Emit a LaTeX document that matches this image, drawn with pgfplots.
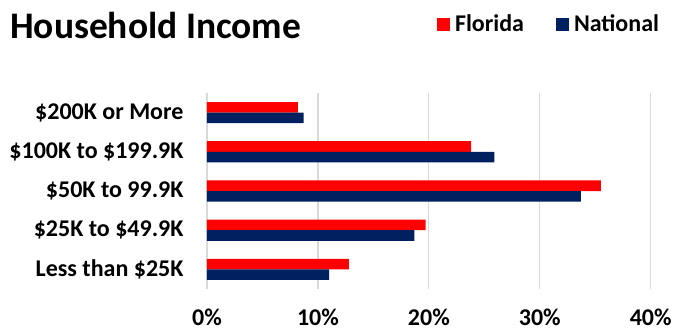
\documentclass[border=0pt]{standalone}
\usepackage{fontspec}
\setmainfont{Carlito}
\usepackage{pgfplots}
\pgfplotsset{compat=1.18}
\definecolor{fl}{HTML}{FF0000}
\definecolor{nat}{HTML}{002060}
\begin{document}
\begin{tikzpicture}
\useasboundingbox (0,0) rectangle (678pt,-333pt);
\node[anchor=west, font=\fontsize{37.5}{40}\selectfont\bfseries, inner sep=0pt] at (10pt,-25pt) {Household Income};
\begin{axis}[
 scale only axis, width=443.7pt, height=196pt,
 at={(207pt,-289pt)}, anchor=south west,
 xbar, bar width=0.27,
 xmin=0, xmax=40, ymin=-0.5, ymax=4.5,
 xtick={0,10,20,30,40}, xticklabels={0\%,10\%,20\%,30\%,40\%},
 ytick={0,1,2,3,4},
 yticklabels={Less than \$25K, \$25K to \$49.9K, \$50K to 99.9K, \$100K to \$199.9K, \$200K or More},
 xmajorgrids, grid style={draw=gray!30, line width=1.2pt},
 axis line style={draw=none}, major tick length=0pt,
 tick label style={font=\fontsize{24}{27}\selectfont\bfseries},
 xticklabel style={yshift=-16pt},
 yticklabel style={xshift=-20pt},
 legend columns=2,
 legend style={at={(axis description cs:0.518,1.352)}, anchor=west, draw=none, fill=none, inner sep=0pt,
   font=\fontsize{24}{27}\selectfont\bfseries,
   /tikz/every even column/.append style={column sep=30pt}},
 legend image code/.code={\fill[#1] (0pt,-6.5pt) rectangle (13pt,6.5pt); \path (16pt,0pt);},
]
\addplot[fill=fl, draw=none, bar shift=0.135] coordinates {(12.8,0) (19.7,1) (35.5,2) (23.8,3) (8.2,4)};
\addplot[fill=nat, draw=none, bar shift=-0.135] coordinates {(11.0,0) (18.7,1) (33.7,2) (25.9,3) (8.7,4)};
\legend{Florida, National}
\end{axis}
\end{tikzpicture}
\end{document}
